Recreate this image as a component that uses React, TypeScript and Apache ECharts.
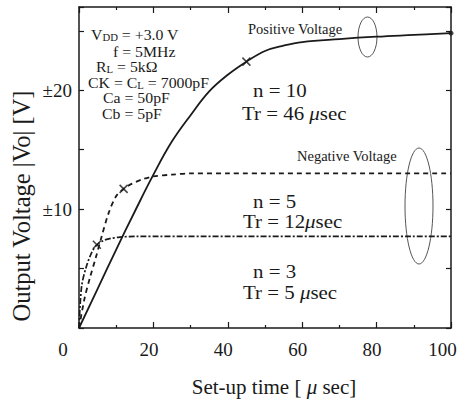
import React, { useEffect, useRef } from 'react';
import * as echarts from 'echarts';

// Set-up time [µsec] vs |Vo| [V]
const n10X = [0, 5, 10, 15, 20, 25, 30, 35, 40, 45, 50, 55, 60, 70, 80, 90, 100];
const n10Y = [0, 3.3, 6.6, 9.8, 12.9, 15.7, 17.9, 19.9, 21.3, 22.4, 23.3, 23.75, 24.05, 24.3, 24.5, 24.65, 24.8];

const n5X = [0, 1.5, 3, 4.5, 6, 8, 10, 12, 14, 17, 20, 25, 30, 40, 100];
const n5Y = [0, 2.5, 4.3, 5.9, 7.6, 9.7, 11.1, 11.7, 12.1, 12.5, 12.75, 12.9, 13.0, 13.0, 13.0];

const n3X = [0, 0.7, 2, 3.5, 4.8, 6.5, 8, 11, 15, 100];
const n3Y = [0, 3.5, 5.2, 6.4, 7.0, 7.35, 7.5, 7.65, 7.7, 7.7];

// Tr markers (x) and end point
const crossX = [45, 12, 4.8];
const crossY = [22.4, 11.7, 7.0];
const endX = [100];
const endY = [24.8];

const xMin = 0, xMax = 100, xStep = 20;
const yMin = 0, yMax = 27, yStep = 5;
const yLabelValues = [10, 20];

const FONT = '"Liberation Serif", "DejaVu Serif", serif';
const INK = '#1a1a1a';

const zip = (xs: number[], ys: number[]) => xs.map((x, i) => [x, ys[i]]);

export default function App() {
  const ref = useRef<HTMLDivElement>(null);
  useEffect(() => {
    const chart = echarts.init(ref.current!, null, { renderer: 'svg' });
    const axisLine = { show: true, onZero: false, lineStyle: { color: INK, width: 1.5 } };
    const main = { fontSize: 14, fontFamily: FONT, color: INK, lineHeight: 14 };
    const sub = { fontSize: 9.5, fontFamily: FONT, color: INK, lineHeight: 9.5, padding: [5, 0, 0, 0] };
    const big = { fontSize: 19, fontFamily: FONT, color: INK, lineHeight: 19 };
    const bigIt = { ...big, fontStyle: 'italic' as const };
    const txt = (x: number, y: number, text: string, rich: any, sx = 1) => ({
      type: 'text', x, y, silent: true, scaleX: sx,
      style: { text, rich, textVerticalAlign: 'middle', textAlign: 'left', fill: INK },
    });
    const xLab = { fontSize: 19, fontFamily: FONT, color: INK };
    const xAxisTick = { show: true, inside: true, length: 6, lineStyle: { color: INK, width: 1.2 } };
    const xMinor = { show: true, splitNumber: 2, length: 3, lineStyle: { color: INK, width: 1.2 } };
    const PS = 1.13; // horizontal stretch for the parameter block
    const BS = 1.1; // horizontal stretch for the n / Tr labels
    const option: any = {
      animation: false,
      backgroundColor: '#ffffff',
      grid: { left: 79, right: 14, top: 7, bottom: 82, containLabel: false },
      xAxis: [
        {
          type: 'value', min: xMin, max: xMax, interval: xStep, position: 'bottom',
          axisLine, splitLine: { show: false }, axisTick: xAxisTick, minorTick: xMinor,
          axisLabel: {
            show: true, margin: 12,
            formatter: (v: number) => (v === 0 ? '{z|0}' : v === 100 ? '{h|100}' : '{n|' + v + '}'),
            rich: {
              z: { ...xLab, padding: [0, 32, 0, 0] },
              n: { ...xLab, padding: [0, 9, 0, 0] },
              h: { ...xLab, padding: [0, 17, 0, 0] },
            },
          },
        },
        {
          type: 'value', min: xMin, max: xMax, interval: xStep, position: 'top',
          axisLine, splitLine: { show: false }, axisTick: xAxisTick, minorTick: xMinor,
          axisLabel: { show: false },
        },
      ],
      yAxis: [
        {
          type: 'value', min: yMin, max: yMax, interval: yStep, position: 'left',
          axisLine, splitLine: { show: false },
          axisTick: { show: true, inside: true, length: 5, lineStyle: { color: INK, width: 1.2 } },
          axisLabel: {
            show: true, margin: 7, fontSize: 19, fontFamily: FONT, color: INK,
            formatter: (v: number) => (yLabelValues.includes(v) ? '±' + v : ''),
          },
        },
        {
          type: 'value', min: yMin, max: yMax, interval: yStep, position: 'right',
          axisLine, splitLine: { show: false },
          axisTick: { show: true, inside: true, length: 5, lineStyle: { color: INK, width: 1.2 } },
          axisLabel: { show: false },
        },
      ],
      series: [
        {
          type: 'line', name: 'n=10', data: zip(n10X, n10Y), smooth: 0.4,
          showSymbol: false, symbol: 'none',
          lineStyle: { color: INK, width: 1.8, type: 'solid' },
        },
        {
          type: 'line', name: 'n=5', data: zip(n5X, n5Y), smooth: 0.3,
          showSymbol: false, symbol: 'none',
          lineStyle: { color: INK, width: 1.8, type: [5, 4] },
        },
        {
          type: 'line', name: 'n=3', data: zip(n3X, n3Y), smooth: 0.3,
          showSymbol: false, symbol: 'none',
          lineStyle: { color: INK, width: 1.7, type: [6, 2, 2, 2] },
        },
        {
          type: 'scatter', data: zip(crossX, crossY), symbol: 'path://M0,0L10,10M10,0L0,10', symbolSize: 8,
          itemStyle: { color: 'none', borderColor: INK, borderWidth: 1.6 },
        },
        {
          type: 'scatter', data: zip(endX, endY), symbol: 'circle', symbolSize: 5,
          itemStyle: { color: INK },
        },
      ],
      graphic: [
        txt(91, 35, '{m|V}{s|DD}{m| = +3.0 V}', { m: main, s: sub }, PS),
        txt(113, 52, '{m|f = 5MHz}', { m: main }, PS),
        txt(96, 67.5, '{m|R}{s|L}{m| = 5kΩ}', { m: main, s: sub }, PS),
        txt(88, 83, '{m|CK = C}{s|L}{m| = 7000pF}', { m: main, s: sub }, PS),
        txt(103, 98.5, '{m|Ca = 50pF}', { m: main }, PS),
        txt(102, 114, '{m|Cb = 5pF}', { m: main }, PS),
        txt(248, 29, '{p|Positive Voltage}', { p: { fontSize: 14.5, fontFamily: FONT, color: '#222' } }),
        txt(297, 156, '{p|Negative Voltage}', { p: { fontSize: 14.5, fontFamily: FONT, color: '#222' } }),
        txt(253, 90, '{b|n = 10}', { b: big }, BS),
        txt(242, 113, '{b|Tr = 46 }{i|μ}{b|sec}', { b: big, i: bigIt }, BS),
        txt(253, 201, '{b|n = 5}', { b: big }, BS),
        txt(243, 221, '{b|Tr = 12}{i|μ}{b|sec}', { b: big, i: bigIt }, BS),
        txt(253, 271, '{b|n = 3}', { b: big }, BS),
        txt(243, 292, '{b|Tr = 5 }{i|μ}{b|sec}', { b: big, i: bigIt }, BS),
        {
          type: 'ellipse', silent: true, shape: { cx: 367.5, cy: 37, rx: 9.5, ry: 20 },
          style: { fill: 'none', stroke: '#555', lineWidth: 1 },
        },
        {
          type: 'ellipse', silent: true, shape: { cx: 419, cy: 206, rx: 14, ry: 58 },
          style: { fill: 'none', stroke: '#555', lineWidth: 1 },
        },
        {
          type: 'text', silent: true, x: 274, y: 387,
          style: {
            text: '{b|Set-up time [ }{i|μ}{b| sec]}', rich: { b: { ...big, fontSize: 21 }, i: { ...bigIt, fontSize: 21 } },
            textAlign: 'center', textVerticalAlign: 'middle', fill: INK,
          },
        },
        {
          type: 'text', silent: true, x: 21, y: 206, rotation: Math.PI / 2,
          style: {
            text: 'Output Voltage |Vo| [V]', fontSize: 24.5, fontFamily: FONT, fill: INK,
            textAlign: 'center', textVerticalAlign: 'middle',
          },
        },
      ],
    };
    chart.setOption(option);
    return () => chart.dispose();
  }, []);
  return <div ref={ref} style={{ position: 'absolute', left: 0, top: 0, width: 465, height: 410 }} />;
}
